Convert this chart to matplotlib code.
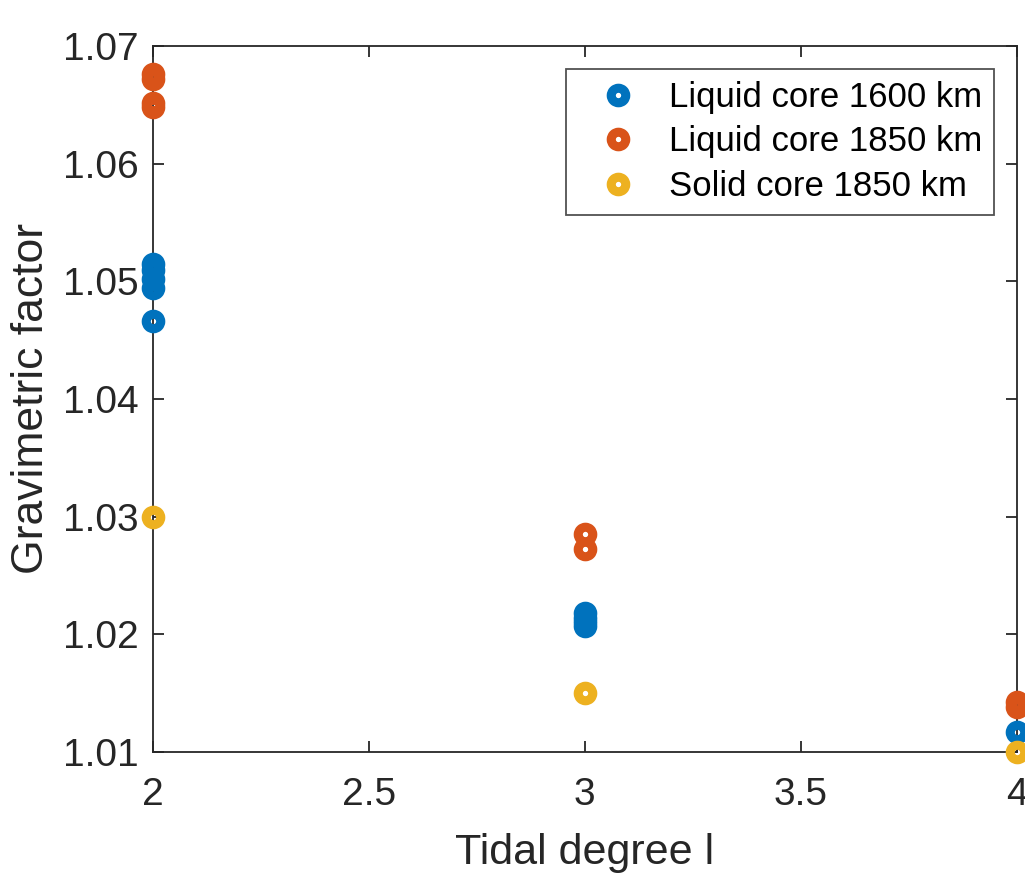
import numpy as np
import matplotlib
matplotlib.use('Agg')
from matplotlib import pyplot as plt

plt.rcParams['font.family'] = ['Liberation Sans', 'DejaVu Sans']

# tidal degree l and gravimetric factor per interior model
x_liq1600 = [2, 2, 2, 2, 2, 3, 3, 3, 3, 4]
y_liq1600 = [1.0515, 1.0510, 1.0502, 1.0494, 1.0466,
             1.0218, 1.0214, 1.0210, 1.0207, 1.0117]
x_liq1850 = [2, 2, 2, 2, 3, 3, 4, 4]
y_liq1850 = [1.0676, 1.0672, 1.0652, 1.0648, 1.0285, 1.0272, 1.0142, 1.0138]
x_sol1850 = [2, 3, 4]
y_sol1850 = [1.0300, 1.0150, 1.0100]

labels = ['Liquid core 1600 km', 'Liquid core 1850 km', 'Solid core 1850 km']
colors = ['#0072BD', '#D95319', '#EDB120']
dark = '#262626'

fig = plt.figure(figsize=(10.25, 8.73), dpi=100)
ax = fig.add_axes([0.149, 0.139, 0.843, 0.808])

series = [(x_liq1600, y_liq1600), (x_liq1850, y_liq1850), (x_sol1850, y_sol1850)]
for (xs, ys), lab, c in zip(series, labels, colors):
    ax.plot(xs, ys, 'o', ls='none', mfc='none', mec=c, ms=10.5, mew=6.5,
            label=lab, clip_on=False, zorder=3)

ax.set_xlim(2, 4)
ax.set_ylim(1.01, 1.07)
ax.set_xticks(np.arange(2, 4.01, 0.5))
ax.set_xticklabels(['2', '2.5', '3', '3.5', '4'])
ax.set_yticks(np.arange(1.01, 1.0701, 0.01))
ax.set_yticklabels(['%.2f' % v for v in np.arange(1.01, 1.0701, 0.01)])
ax.tick_params(direction='in', length=8, width=1.3, colors=dark,
               labelsize=28, top=True, right=True)
ax.tick_params(axis='x', pad=18)
ax.tick_params(axis='y', pad=10)
for s in ax.spines.values():
    s.set_color(dark)
    s.set_linewidth(1.3)

ax.set_xlabel('Tidal degree l', fontsize=31, color=dark, labelpad=15)
ax.set_ylabel('Gravimetric factor', fontsize=32, color=dark, labelpad=8)

leg = ax.legend(loc='upper right', fontsize=25, frameon=True, fancybox=False,
                edgecolor=dark, borderaxespad=0.65, handlelength=2.3,
                handletextpad=0.32, labelspacing=0.33, borderpad=0.35)
leg.get_frame().set_linewidth(1.3)
for t in leg.get_texts():
    t.set_color('black')

fig.savefig('out.png', dpi=100)
